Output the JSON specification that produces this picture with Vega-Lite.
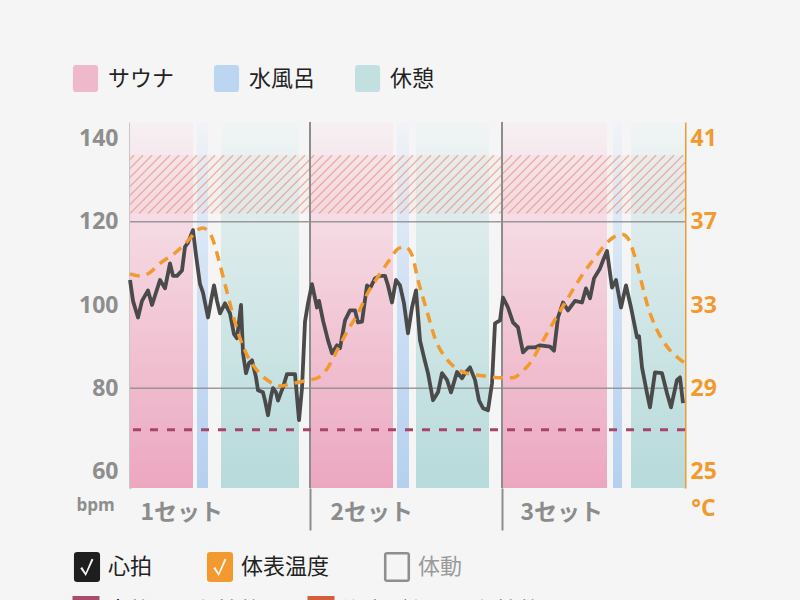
{
  "$schema": "https://vega.github.io/schema/vega-lite/v6.json",
  "width": 555,
  "height": 366,
  "autosize": {"type": "none"},
  "padding": {"left": 130, "right": 115, "top": 122, "bottom": 112},
  "background": "#f5f5f5",
  "datasets": {
    "phases": [
      {"phase": "サウナ", "start": 0, "end": 6.3},
      {"phase": "水風呂", "start": 6.7, "end": 7.8},
      {"phase": "休憩", "start": 9.1, "end": 16.9},
      {"phase": "サウナ", "start": 18.1, "end": 26.3},
      {"phase": "水風呂", "start": 26.7, "end": 27.9},
      {"phase": "休憩", "start": 28.6, "end": 35.9},
      {"phase": "サウナ", "start": 37.3, "end": 47.7},
      {"phase": "水風呂", "start": 48.3, "end": 49.2},
      {"phase": "休憩", "start": 50.1, "end": 55.5}
    ],
    "hatch": [
      {"a": -5.4, "b": 0.4}, {"a": -4.5, "b": 1.3}, {"a": -3.6, "b": 2.2}, {"a": -2.7, "b": 3.1},
      {"a": -1.8, "b": 4.0}, {"a": -0.9, "b": 4.9}, {"a": 0, "b": 5.8}, {"a": 0.9, "b": 6.7},
      {"a": 1.8, "b": 7.6}, {"a": 2.7, "b": 8.5}, {"a": 3.6, "b": 9.4}, {"a": 4.5, "b": 10.3},
      {"a": 5.4, "b": 11.2}, {"a": 6.3, "b": 12.1}, {"a": 7.2, "b": 13.0}, {"a": 8.1, "b": 13.9},
      {"a": 9.0, "b": 14.8}, {"a": 9.9, "b": 15.7}, {"a": 10.8, "b": 16.6}, {"a": 11.7, "b": 17.5},
      {"a": 12.6, "b": 18.4}, {"a": 13.5, "b": 19.3}, {"a": 14.4, "b": 20.2}, {"a": 15.3, "b": 21.1},
      {"a": 16.2, "b": 22.0}, {"a": 17.1, "b": 22.9}, {"a": 18.0, "b": 23.8}, {"a": 18.9, "b": 24.7},
      {"a": 19.8, "b": 25.6}, {"a": 20.7, "b": 26.5}, {"a": 21.6, "b": 27.4}, {"a": 22.5, "b": 28.3},
      {"a": 23.4, "b": 29.2}, {"a": 24.3, "b": 30.1}, {"a": 25.2, "b": 31.0}, {"a": 26.1, "b": 31.9},
      {"a": 27.0, "b": 32.8}, {"a": 27.9, "b": 33.7}, {"a": 28.8, "b": 34.6}, {"a": 29.7, "b": 35.5},
      {"a": 30.6, "b": 36.4}, {"a": 31.5, "b": 37.3}, {"a": 32.4, "b": 38.2}, {"a": 33.3, "b": 39.1},
      {"a": 34.2, "b": 40.0}, {"a": 35.1, "b": 40.9}, {"a": 36.0, "b": 41.8}, {"a": 36.9, "b": 42.7},
      {"a": 37.8, "b": 43.6}, {"a": 38.7, "b": 44.5}, {"a": 39.6, "b": 45.4}, {"a": 40.5, "b": 46.3},
      {"a": 41.4, "b": 47.2}, {"a": 42.3, "b": 48.1}, {"a": 43.2, "b": 49.0}, {"a": 44.1, "b": 49.9},
      {"a": 45.0, "b": 50.8}, {"a": 45.9, "b": 51.7}, {"a": 46.8, "b": 52.6}, {"a": 47.7, "b": 53.5},
      {"a": 48.6, "b": 54.4}, {"a": 49.5, "b": 55.3}, {"a": 50.4, "b": 56.2}, {"a": 51.3, "b": 57.1},
      {"a": 52.2, "b": 58.0}, {"a": 53.1, "b": 58.9}, {"a": 54.0, "b": 59.8}, {"a": 54.9, "b": 60.7}
    ],
    "heart": [
      {"t": 0, "hr": 106}, {"t": 0.3, "hr": 101}, {"t": 0.8, "hr": 97}, {"t": 1.2, "hr": 101},
      {"t": 1.8, "hr": 103.5}, {"t": 2.2, "hr": 100}, {"t": 2.6, "hr": 103}, {"t": 3.0, "hr": 106},
      {"t": 3.5, "hr": 104}, {"t": 4.0, "hr": 110}, {"t": 4.3, "hr": 107}, {"t": 4.7, "hr": 107},
      {"t": 5.2, "hr": 108.3}, {"t": 5.5, "hr": 114}, {"t": 5.8, "hr": 115}, {"t": 6.3, "hr": 118},
      {"t": 6.6, "hr": 112}, {"t": 7.0, "hr": 105}, {"t": 7.3, "hr": 103}, {"t": 7.8, "hr": 97},
      {"t": 8.1, "hr": 101}, {"t": 8.4, "hr": 104.7}, {"t": 8.7, "hr": 101}, {"t": 9.0, "hr": 98},
      {"t": 9.5, "hr": 100.4}, {"t": 10.0, "hr": 98}, {"t": 10.4, "hr": 93}, {"t": 10.7, "hr": 92},
      {"t": 11.1, "hr": 100}, {"t": 11.3, "hr": 88.4}, {"t": 11.6, "hr": 83.6}, {"t": 11.9, "hr": 86},
      {"t": 12.2, "hr": 86.7}, {"t": 12.6, "hr": 82.6}, {"t": 12.8, "hr": 79.5}, {"t": 13.3, "hr": 79},
      {"t": 13.5, "hr": 77}, {"t": 13.8, "hr": 73.5}, {"t": 14.1, "hr": 78}, {"t": 14.3, "hr": 80},
      {"t": 14.6, "hr": 79}, {"t": 14.8, "hr": 77}, {"t": 15.1, "hr": 79}, {"t": 15.3, "hr": 80.2},
      {"t": 15.7, "hr": 83.4}, {"t": 16.5, "hr": 83.4}, {"t": 16.9, "hr": 72.3}, {"t": 17.2, "hr": 80},
      {"t": 17.5, "hr": 96}, {"t": 17.8, "hr": 100.4}, {"t": 18.2, "hr": 105},
      {"t": 18.7, "hr": 99.4}, {"t": 18.9, "hr": 101}, {"t": 19.3, "hr": 96.3}, {"t": 19.8, "hr": 91.5},
      {"t": 20.2, "hr": 88.4}, {"t": 20.7, "hr": 90.3}, {"t": 21.0, "hr": 89.6}, {"t": 21.5, "hr": 96.3},
      {"t": 22.0, "hr": 98.7}, {"t": 22.5, "hr": 98.7}, {"t": 22.8, "hr": 95.8}, {"t": 23.2, "hr": 96},
      {"t": 23.7, "hr": 104.7}, {"t": 24.0, "hr": 104}, {"t": 24.5, "hr": 106.4}, {"t": 25.0, "hr": 107},
      {"t": 25.5, "hr": 107}, {"t": 25.8, "hr": 104.7}, {"t": 26.2, "hr": 100.6}, {"t": 26.6, "hr": 106},
      {"t": 27.0, "hr": 104.7}, {"t": 27.4, "hr": 100.4}, {"t": 27.8, "hr": 93.2}, {"t": 28.2, "hr": 99.4},
      {"t": 28.6, "hr": 103.5}, {"t": 29.0, "hr": 91.5}, {"t": 29.4, "hr": 87.4}, {"t": 29.8, "hr": 83.6},
      {"t": 30.3, "hr": 77.1}, {"t": 30.8, "hr": 79}, {"t": 31.2, "hr": 83.6}, {"t": 31.7, "hr": 82},
      {"t": 32.1, "hr": 79}, {"t": 32.7, "hr": 83.9}, {"t": 33.2, "hr": 82.4}, {"t": 33.5, "hr": 83.6},
      {"t": 34.0, "hr": 85}, {"t": 34.5, "hr": 82}, {"t": 34.9, "hr": 77}, {"t": 35.3, "hr": 75.2},
      {"t": 35.8, "hr": 74.7}, {"t": 36.2, "hr": 81.2}, {"t": 36.5, "hr": 95.6}, {"t": 37.0, "hr": 96.3},
      {"t": 37.3, "hr": 101.8}, {"t": 37.8, "hr": 99.4}, {"t": 38.3, "hr": 95.8}, {"t": 38.8, "hr": 94.6},
      {"t": 39.3, "hr": 88.6}, {"t": 39.8, "hr": 89.8}, {"t": 40.5, "hr": 89.8}, {"t": 41.0, "hr": 90.3},
      {"t": 42.0, "hr": 90}, {"t": 42.4, "hr": 89}, {"t": 42.8, "hr": 97}, {"t": 43.3, "hr": 100.6},
      {"t": 43.8, "hr": 98.7}, {"t": 44.5, "hr": 101}, {"t": 45.2, "hr": 100.6}, {"t": 45.6, "hr": 104},
      {"t": 46.0, "hr": 101.6}, {"t": 46.4, "hr": 106.4}, {"t": 47.0, "hr": 108.8}, {"t": 47.3, "hr": 110.7},
      {"t": 47.7, "hr": 113}, {"t": 48.2, "hr": 104.2}, {"t": 48.6, "hr": 106}, {"t": 49.1, "hr": 99.4},
      {"t": 49.6, "hr": 104.7}, {"t": 50.1, "hr": 99.4}, {"t": 50.7, "hr": 92.2}, {"t": 50.9, "hr": 92.5},
      {"t": 51.2, "hr": 85}, {"t": 51.7, "hr": 78.8}, {"t": 52.0, "hr": 75.4}, {"t": 52.5, "hr": 83.8},
      {"t": 53.2, "hr": 83.6}, {"t": 53.7, "hr": 78.8}, {"t": 54.1, "hr": 75.4}, {"t": 54.7, "hr": 82},
      {"t": 55.0, "hr": 82.6}, {"t": 55.3, "hr": 76.4}
    ],
    "skin": [
      {"t": 0, "temp": 34.5}, {"t": 1.0, "temp": 34.4}, {"t": 1.8, "temp": 34.5}, {"t": 3.0, "temp": 35.0},
      {"t": 4.5, "temp": 35.5}, {"t": 6.0, "temp": 36.2}, {"t": 6.7, "temp": 36.6}, {"t": 7.3, "temp": 36.7},
      {"t": 7.7, "temp": 36.6}, {"t": 8.2, "temp": 36.25}, {"t": 8.8, "temp": 35.3}, {"t": 9.5, "temp": 34.0},
      {"t": 10.2, "temp": 32.7}, {"t": 11.0, "temp": 31.4}, {"t": 11.8, "temp": 30.5}, {"t": 12.8, "temp": 29.8},
      {"t": 14.0, "temp": 29.3}, {"t": 15.0, "temp": 29.1}, {"t": 16.0, "temp": 29.2}, {"t": 17.0, "temp": 29.3},
      {"t": 18.0, "temp": 29.4}, {"t": 18.8, "temp": 29.5}, {"t": 19.8, "temp": 30.0}, {"t": 20.8, "temp": 30.9},
      {"t": 21.8, "temp": 31.8}, {"t": 22.8, "temp": 32.6}, {"t": 23.8, "temp": 33.6}, {"t": 25.0, "temp": 34.5},
      {"t": 26.0, "temp": 35.2}, {"t": 26.8, "temp": 35.7}, {"t": 27.5, "temp": 35.8}, {"t": 28.2, "temp": 35.4},
      {"t": 28.8, "temp": 34.2}, {"t": 29.7, "temp": 32.7}, {"t": 30.5, "temp": 31.4}, {"t": 31.5, "temp": 30.5},
      {"t": 32.5, "temp": 30.0}, {"t": 33.8, "temp": 29.7}, {"t": 35.2, "temp": 29.6}, {"t": 37.2, "temp": 29.5},
      {"t": 38.3, "temp": 29.5}, {"t": 39.2, "temp": 29.8}, {"t": 40.0, "temp": 30.2}, {"t": 41.2, "temp": 31.2},
      {"t": 42.5, "temp": 32.3}, {"t": 44.0, "temp": 33.5}, {"t": 45.3, "temp": 34.5}, {"t": 46.7, "temp": 35.4},
      {"t": 47.7, "temp": 36.0}, {"t": 48.5, "temp": 36.3}, {"t": 49.2, "temp": 36.4}, {"t": 49.8, "temp": 36.2},
      {"t": 50.5, "temp": 35.3}, {"t": 51.2, "temp": 34.0}, {"t": 51.8, "temp": 32.9}, {"t": 52.7, "temp": 31.8},
      {"t": 53.7, "temp": 31.0}, {"t": 54.7, "temp": 30.5}, {"t": 55.5, "temp": 30.2}
    ]
  },
  "layer": [
    {
      "data": {"name": "phases"},
      "transform": [{"filter": "datum.phase === 'サウナ'"}],
      "mark": {
        "type": "rect",
        "color": {
          "gradient": "linear", "x1": 0, "y1": 0, "x2": 0, "y2": 1,
          "stops": [
            {"offset": 0, "color": "#f6f0f2"},
            {"offset": 0.25, "color": "#f5dce5"},
            {"offset": 0.6, "color": "#f1c3d3"},
            {"offset": 1, "color": "#eca7c0"}
          ]
        }
      },
      "encoding": {
        "x": {
          "field": "start", "type": "quantitative",
          "scale": {"domain": [0, 55.5], "nice": false, "zero": false},
          "axis": {
            "orient": "bottom",
            "values": [1, 20, 39],
            "labelExpr": "datum.value < 10 ? '1セット' : datum.value < 30 ? '2セット' : '3セット'",
            "labelAlign": "left", "labelBaseline": "middle", "labelPadding": 24,
            "labelFontSize": 23, "labelColor": "#8c8c8c", "labelFontWeight": "bold",
            "ticks": false, "domain": false, "grid": false, "title": null
          }
        },
        "x2": {"field": "end"}
      }
    },
    {
      "data": {"name": "phases"},
      "transform": [{"filter": "datum.phase === '水風呂'"}],
      "mark": {
        "type": "rect",
        "color": {
          "gradient": "linear", "x1": 0, "y1": 0, "x2": 0, "y2": 1,
          "stops": [
            {"offset": 0, "color": "#f1f3f7"},
            {"offset": 0.25, "color": "#dde9f6"},
            {"offset": 0.6, "color": "#c8dcf3"},
            {"offset": 1, "color": "#b5d0ef"}
          ]
        }
      },
      "encoding": {
        "x": {"field": "start", "type": "quantitative", "scale": {"domain": [0, 55.5], "nice": false, "zero": false}, "axis": null},
        "x2": {"field": "end"}
      }
    },
    {
      "data": {"name": "phases"},
      "transform": [{"filter": "datum.phase === '休憩'"}],
      "mark": {
        "type": "rect",
        "color": {
          "gradient": "linear", "x1": 0, "y1": 0, "x2": 0, "y2": 1,
          "stops": [
            {"offset": 0, "color": "#f1f4f4"},
            {"offset": 0.25, "color": "#dfeced"},
            {"offset": 0.6, "color": "#cce4e4"},
            {"offset": 1, "color": "#b7dadb"}
          ]
        }
      },
      "encoding": {
        "x": {"field": "start", "type": "quantitative", "scale": {"domain": [0, 55.5], "nice": false, "zero": false}, "axis": null},
        "x2": {"field": "end"}
      }
    },
    {
      "data": {"values": [{"zone": "hatch"}]},
      "mark": {"type": "rect", "color": "#e8a092", "opacity": 0.06},
      "encoding": {
        "y": {"datum": 122, "type": "quantitative", "scale": {"domain": [56, 144], "nice": false, "zero": false}, "axis": null},
        "y2": {"datum": 136}
      }
    },
    {
      "data": {"name": "hatch"},
      "mark": {"type": "rule", "clip": true, "color": "#e5866a", "strokeWidth": 1.2, "opacity": 0.6},
      "encoding": {
        "x": {"field": "a", "type": "quantitative", "scale": {"domain": [0, 55.5], "nice": false, "zero": false}, "axis": null},
        "x2": {"field": "b"},
        "y": {"datum": 122, "type": "quantitative", "scale": {"domain": [56, 144], "nice": false, "zero": false}, "axis": null},
        "y2": {"datum": 136}
      }
    },
    {
      "data": {"values": [{"v": 80}, {"v": 120}]},
      "mark": {"type": "rule", "color": "#8c8c8c", "strokeWidth": 1.5, "opacity": 0.85},
      "encoding": {
        "y": {"field": "v", "type": "quantitative", "scale": {"domain": [56, 144], "nice": false, "zero": false}, "axis": null}
      }
    },
    {
      "data": {"values": [{"t": 18.0}, {"t": 37.2}]},
      "mark": {"type": "rule", "color": "#8d8d8d", "strokeWidth": 2},
      "encoding": {
        "x": {
          "field": "t", "type": "quantitative",
          "scale": {"domain": [0, 55.5], "nice": false, "zero": false},
          "axis": {
            "orient": "bottom",
            "values": [18.0, 37.2], "labels": false, "domain": false, "grid": false,
            "ticks": true, "tickSize": 42, "tickColor": "#8d8d8d", "tickWidth": 2, "title": null
          }
        }
      }
    },
    {
      "data": {"values": [{"rest": 70}]},
      "mark": {"type": "rule", "color": "#a8446a", "strokeWidth": 3, "strokeDash": [8, 9]},
      "encoding": {
        "y": {"field": "rest", "type": "quantitative", "scale": {"domain": [56, 144], "nice": false, "zero": false}, "axis": null}
      }
    },
    {
      "data": {"name": "heart"},
      "mark": {"type": "line", "color": "#4a4a4a", "strokeWidth": 3.8, "strokeJoin": "round"},
      "encoding": {
        "x": {"field": "t", "type": "quantitative", "scale": {"domain": [0, 55.5], "nice": false, "zero": false}, "axis": null},
        "y": {
          "field": "hr", "type": "quantitative",
          "scale": {"domain": [56, 144], "nice": false, "zero": false},
          "axis": {
            "values": [60, 80, 100, 120, 140], "grid": false, "ticks": false,
            "domain": true, "domainColor": "#9a9a9a", "domainWidth": 2,
            "labelFont": "Open Sans", "labelFontSize": 23, "labelFontWeight": "bold", "labelColor": "#8e8e8e", "labelPadding": 12,
            "title": "bpm", "titleAngle": 0, "titleX": -35, "titleY": 383,
            "titleAlign": "center", "titleBaseline": "middle", "titleFont": "Open Sans",
            "titleFontSize": 17, "titleFontWeight": "bold", "titleColor": "#8e8e8e"
          }
        }
      }
    },
    {
      "data": {"name": "skin"},
      "mark": {"type": "line", "color": "#f29a2e", "strokeWidth": 3.5, "strokeDash": [10, 7], "interpolate": "monotone"},
      "encoding": {
        "x": {"field": "t", "type": "quantitative", "scale": {"domain": [0, 55.5], "nice": false, "zero": false}, "axis": null},
        "y": {
          "field": "temp", "type": "quantitative",
          "scale": {"domain": [24.2, 41.8], "nice": false, "zero": false},
          "axis": {
            "orient": "right", "values": [25, 29, 33, 37, 41], "grid": false, "ticks": false,
            "domain": true, "domainColor": "#f29a2e", "domainWidth": 2,
            "labelFont": "Open Sans", "labelFontSize": 23, "labelFontWeight": "bold", "labelColor": "#f29a2e", "labelPadding": 5,
            "title": "°C", "titleAngle": 0, "titleX": 18, "titleY": 386,
            "titleAlign": "center", "titleBaseline": "middle", "titleFont": "Open Sans",
            "titleFontSize": 23, "titleFontWeight": "bold", "titleColor": "#f29a2e"
          }
        }
      }
    },
    {
      "data": {"values": []},
      "mark": {"type": "point", "filled": true},
      "encoding": {
        "color": {
          "field": "phase", "type": "nominal",
          "scale": {"domain": ["サウナ", "水風呂", "休憩"], "range": ["#efb8cb", "#bcd6f2", "#c2e0df"]},
          "legend": {
            "orient": "none", "legendX": -58, "legendY": -57, "direction": "horizontal",
            "title": null, "symbolSize": 729, "symbolOpacity": 1, "symbolStrokeWidth": 0,
            "symbolType": "M-0.93,-0.75 Q-0.93,-1 -0.68,-1 L0.68,-1 Q0.93,-1 0.93,-0.75 L0.93,0.75 Q0.93,1 0.68,1 L-0.68,1 Q-0.93,1 -0.93,0.75 Z",
            "labelFontSize": 22, "labelColor": "#222222", "labelOffset": 9, "columnPadding": 38, "labelLimit": 300
          }
        }
      }
    },
    {
      "data": {"values": []},
      "mark": {"type": "point", "filled": true},
      "encoding": {
        "fill": {
          "field": "series", "type": "nominal",
          "scale": {
            "domain": ["心拍", "体表温度", "体動"],
            "range": ["#1e1e1e", "#f29a30", "#8e8e8e"]
          },
          "legend": {
            "orient": "none", "legendX": -58, "legendY": 430, "direction": "horizontal",
            "title": null, "symbolSize": 900, "symbolOpacity": 1, "symbolStrokeWidth": 0,
            "labelFontSize": 22, "labelOffset": 6, "columnPadding": 52, "labelLimit": 300,
            "encode": {
              "labels": {"update": {"fill": {"signal": "datum.label === '体動' ? '#9a9a9a' : '#222222'"}}},
              "symbols": {"update": {"shape": {"signal": "datum.label === '体動' ? 'M-0.87,-0.78 Q-0.87,-1 -0.65,-1 L0.65,-1 Q0.87,-1 0.87,-0.78 L0.87,0.78 Q0.87,1 0.65,1 L-0.65,1 Q-0.87,1 -0.87,0.78 Z M-0.7,-0.83 L-0.7,0.83 L0.7,0.83 L0.7,-0.83 Z' : 'M-0.87,-0.78 Q-0.87,-1 -0.65,-1 L0.65,-1 Q0.87,-1 0.87,-0.78 L0.87,0.78 Q0.87,1 0.65,1 L-0.65,1 Q-0.87,1 -0.87,0.78 Z M-0.45,0.08 L-0.08,0.6 L0.43,-0.5 L0.3,-0.55 L-0.09,0.38 L-0.32,0 Z'"}}}
            }
          }
        }
      }
    },
    {
      "data": {"values": []},
      "mark": {"type": "point", "filled": false},
      "encoding": {
        "stroke": {
          "field": "marker", "type": "nominal",
          "scale": {
            "domain": ["安静時の心拍数", "注意が必要な心拍数"],
            "range": ["#a84d6b", "#d4603a"]
          },
          "legend": {
            "orient": "none", "legendX": -65, "legendY": 468, "direction": "horizontal",
            "title": null, "symbolSize": 900, "symbolOpacity": 1, "symbolStrokeWidth": 12,
            "symbolType": "M-0.5,-0.6 L0.5,-0.6 L0.5,0.6 L-0.5,0.6 Z",
            "labelFontSize": 22, "labelOffset": 0, "columnPadding": 27, "labelLimit": 300,
            "labelColor": "#222222"
          }
        }
      }
    }
  ],
  "resolve": {"scale": {"y": "independent"}, "axis": {"x": "independent"}},
  "config": {
    "font": "Noto Sans CJK JP",
    "view": {"stroke": null, "fill": "#f8f8f8"},
    "legend": {"padding": 0, "labelFont": "Noto Sans CJK JP"},
    "axis": {"labelFont": "Noto Sans CJK JP", "titleFont": "Noto Sans CJK JP"}
  }
}
